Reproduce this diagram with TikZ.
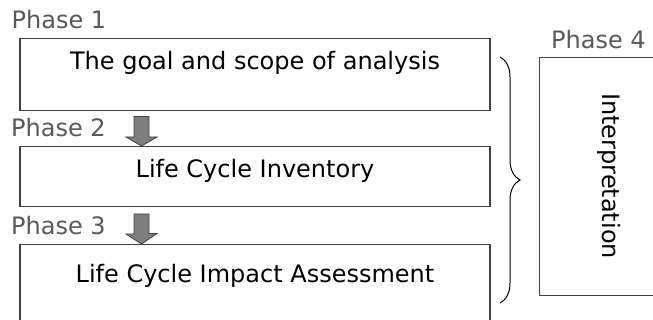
\documentclass[tikz,border=0pt]{standalone}
\usepackage{fontspec}
\setmainfont{DejaVu Sans}
\usetikzlibrary{decorations.pathreplacing}
\definecolor{edge}{HTML}{404040}
\definecolor{phasegray}{HTML}{595959}
\definecolor{arrowfill}{HTML}{7F7F7F}
\tikzset{
  stagebox/.style={draw=edge, line width=1.1pt, inner sep=0pt, minimum width=470pt,
    font=\fontsize{24}{28}\selectfont, text height=30.5pt, anchor=north},
  phaselabel/.style={text=phasegray, inner sep=0pt, anchor=base west,
    font=\fontsize{24}{28}\selectfont},
  blockarrow/.style={draw=edge, fill=arrowfill, line width=0.8pt, line join=miter},
  bracestyle/.style={draw=black, line width=1pt, decorate,
    decoration={brace, amplitude=20pt}}
}
\begin{document}
\begin{tikzpicture}[x=1pt, y=-1pt]
\useasboundingbox (0,0) rectangle (653,320);
\clip (0,0) rectangle (653,320);
\fill[white] (0,0) rectangle (653,320);

\node[phaselabel] (p1) at (11.5,28.3) {Phase 1};
\node[phaselabel] (p2) at (11,136.7) {Phase 2};
\node[phaselabel] (p3) at (11,234.3) {Phase 3};
\node[phaselabel] (p4) at (551,48.3) {Phase 4};

\node[stagebox, text depth=41.5pt] (b1) at (255,38) {The goal and scope of analysis};
\node[stagebox, text depth=29.5pt] (b2) at (255,146) {Life Cycle Inventory};
\node[stagebox, text height=38pt, text depth=44pt] (b3) at (255,244) {Life Cycle Impact Assessment};

\node[draw=edge, line width=1.1pt, inner sep=0pt, anchor=north west,
  minimum width=130pt, minimum height=238pt] (b4) at (539,57) {};
\node[rotate=-90, font=\fontsize{24}{28}\selectfont, inner sep=0pt] (interp) at (609,176) {Interpretation};

\coordinate (a1) at (141.5,116.5);
\draw[blockarrow] (a1) ++(-7.5,0) -- ++(15,0) -- ++(0,20.5) -- ++(8,0) -- (b2.north -| a1)
  -- ++(-15.5,-9) -- ++(8,0) -- cycle;
\coordinate (a2) at (141.5,214);
\draw[blockarrow] (a2) ++(-7.5,0) -- ++(15,0) -- ++(0,19.5) -- ++(8,0) -- (b3.north -| a2)
  -- ++(-15.5,-10) -- ++(8,0) -- cycle;

\coordinate (bt) at (500,57);
\coordinate (bb) at (500,303);
\draw[bracestyle] (bt) -- (bb);
\end{tikzpicture}
\end{document}
